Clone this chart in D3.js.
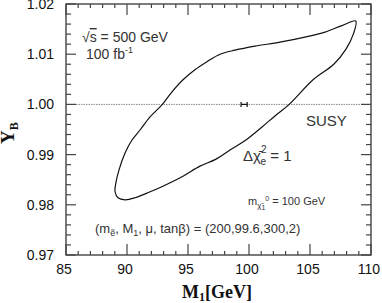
<!DOCTYPE html>
<html><head><meta charset="utf-8">
<script src="https://cdn.jsdelivr.net/npm/d3@7"></script>
<style>
html,body{margin:0;padding:0;background:#fff;}
svg{display:block;}
</style></head>
<body>
<svg id="c" width="382" height="303"></svg>
<script>
// ---- data ----
const xMajorTicks = [85, 90, 95, 100, 105, 110];
const yMajorTicks = [0.97, 0.98, 0.99, 1.00, 1.01, 1.02];
const yTickLabels = ["0.97", "0.98", "0.99", "1.00", "1.01", "1.02"];
// Delta chi^2 = 1 contour (M1 [GeV], Y_B)
const contourM1 = [89.10, 89.34, 89.84, 90.41, 91.07, 91.89, 92.90, 93.69, 94.59, 95.57, 96.56, 97.62, 98.85, 100.49, 102.54, 104.59, 106.23, 107.62, 108.75,
  108.55, 107.95, 106.95, 105.25, 103.30, 102.13, 101.07, 99.75, 98.44, 97.30, 95.98, 94.59, 93.11, 91.89, 90.66, 89.84, 89.26, 89.02];
const contourYB = [0.9845, 0.9869, 0.9903, 0.9929, 0.9949, 0.9975, 1.0000, 1.0025, 1.0049, 1.0069, 1.0085, 1.0100, 1.0108, 1.0116, 1.0124, 1.0134, 1.0144, 1.0157, 1.0166,
  1.0140, 1.0110, 1.0080, 1.0049, 1.0000, 0.9977, 0.9955, 0.9929, 0.9909, 0.9891, 0.9877, 0.9857, 0.9839, 0.9826, 0.9814, 0.9810, 0.9814, 0.9826];
const bestFitM1 = 99.6, bestFitYB = 1.00, bestFitErr = 0.25;
const refLineYB = 1.00;

// ---- scales ----
const svg = d3.select("#c");
const x = d3.scaleLinear().domain([85, 110]).range([66, 371]);
const y = d3.scaleLinear().domain([0.97, 1.02]).range([255, 4]);
const [x0, x1] = x.range(), [y0, y1] = y.range();

const g = svg.append("g");

// reference line
g.append("line").attr("x1", x0).attr("x2", x1).attr("y1", y(refLineYB)).attr("y2", y(refLineYB))
  .attr("stroke", "#888").attr("stroke-width", 1).attr("stroke-dasharray", "1.5,1");

// contour
const pts = contourM1.map((d, i) => [x(d), y(contourYB[i])]);
g.append("path").attr("d", d3.line().curve(d3.curveCatmullRomClosed.alpha(0.5))(pts))
  .attr("fill", "none").attr("stroke", "#111").attr("stroke-width", 1.2);

// best-fit marker
const bx = x(bestFitM1), by = y(bestFitYB);
g.append("line").attr("x1", x(bestFitM1 - bestFitErr)).attr("x2", x(bestFitM1 + bestFitErr)).attr("y1", by).attr("y2", by).attr("stroke", "#111").attr("stroke-width", 1.2);
[bestFitM1 - bestFitErr, bestFitM1 + bestFitErr].forEach(v => {
  g.append("line").attr("x1", x(v)).attr("x2", x(v)).attr("y1", by - 2.5).attr("y2", by + 2.5).attr("stroke", "#111").attr("stroke-width", 1.2);
});

// frame
g.append("rect").attr("x", x0).attr("y", y1).attr("width", x1 - x0).attr("height", y0 - y1)
  .attr("fill", "none").attr("stroke", "#444").attr("stroke-width", 1.4);

// ticks
const xMinor = d3.range(85, 110.001, 1).filter(v => !xMajorTicks.includes(v));
const yMinor = d3.range(0, 26).map(i => +(0.97 + i * 0.002).toFixed(3)).filter(v => !yMajorTicks.some(t => Math.abs(t - v) < 1e-6));
const tk = g.append("g").attr("stroke", "#444").attr("stroke-width", 1.2);
xMajorTicks.forEach(v => {
  tk.append("line").attr("x1", x(v)).attr("x2", x(v)).attr("y1", y0).attr("y2", y0 - 11);
  tk.append("line").attr("x1", x(v)).attr("x2", x(v)).attr("y1", y1).attr("y2", y1 + 11);
});
xMinor.forEach(v => {
  tk.append("line").attr("x1", x(v)).attr("x2", x(v)).attr("y1", y0).attr("y2", y0 - 4);
  tk.append("line").attr("x1", x(v)).attr("x2", x(v)).attr("y1", y1).attr("y2", y1 + 4);
});
yMajorTicks.forEach(v => {
  tk.append("line").attr("y1", y(v)).attr("y2", y(v)).attr("x1", x0).attr("x2", x0 + 10);
  tk.append("line").attr("y1", y(v)).attr("y2", y(v)).attr("x1", x1).attr("x2", x1 - 10);
});
yMinor.forEach(v => {
  tk.append("line").attr("y1", y(v)).attr("y2", y(v)).attr("x1", x0).attr("x2", x0 + 5);
  tk.append("line").attr("y1", y(v)).attr("y2", y(v)).attr("x1", x1).attr("x2", x1 - 5);
});

// tick labels
const lf = "Liberation Sans, Arial, sans-serif";
g.selectAll(".xl").data(xMajorTicks).enter().append("text")
  .attr("x", d => x(d) - 2).attr("y", 274).attr("text-anchor", "middle")
  .attr("font-family", lf).attr("font-size", 14).attr("fill", "#111").text(d => d);
g.selectAll(".yl").data(yMajorTicks).enter().append("text")
  .attr("x", 54).attr("y", d => y(d) + 5).attr("text-anchor", "end")
  .attr("font-family", lf).attr("font-size", 14).attr("fill", "#111").text((d, i) => yTickLabels[i]);

// axis titles
const sf = "Liberation Serif, Times New Roman, serif";
const xt = g.append("text").attr("x", 217).attr("y", 298).attr("text-anchor", "middle")
  .attr("font-family", sf).attr("font-size", 18).attr("font-weight", "bold").attr("fill", "#111");
xt.append("tspan").text("M");
xt.append("tspan").attr("font-size", 12).attr("dy", 3).text("1");
xt.append("tspan").attr("dy", -3).text("[GeV]");

const yt = g.append("text").attr("transform", "translate(14,133) rotate(-90)").attr("text-anchor", "middle")
  .attr("font-family", sf).attr("font-size", 19).attr("font-weight", "bold").attr("fill", "#111");
yt.append("tspan").text("Y");
yt.append("tspan").attr("font-size", 12).attr("dy", 4).text("B");

// annotations
const af = "Liberation Sans, Arial, sans-serif";
const ac = "#333";
const t1 = g.append("text").attr("x", 82).attr("y", 42).attr("font-family", af).attr("font-size", 14).attr("fill", ac);
t1.append("tspan").text("√");
t1.append("tspan").attr("text-decoration", "overline").text("s");
t1.append("tspan").text(" = 500 GeV");
const t2 = g.append("text").attr("x", 86).attr("y", 59).attr("font-family", af).attr("font-size", 14).attr("fill", ac);
t2.append("tspan").text("100 fb");
t2.append("tspan").attr("font-size", 9).attr("dy", -6).text("-1");

g.append("text").attr("x", 306).attr("y", 126).attr("font-family", af).attr("font-size", 15).attr("fill", ac).text("SUSY");

const t3 = g.append("text").attr("x", 243).attr("y", 161).attr("font-family", af).attr("font-size", 15).attr("fill", ac);
t3.append("tspan").text("Δχ̄");
t3.append("tspan").attr("font-size", 10).attr("dy", -8).text("2");
t3.append("tspan").attr("font-size", 10).attr("dx", -6).attr("dy", 12).text("e");
t3.append("tspan").attr("dy", -4).text(" = 1");

const t4 = g.append("text").attr("x", 248).attr("y", 205).attr("font-family", af).attr("font-size", 11).attr("fill", ac);
t4.append("tspan").text("m");
t4.append("tspan").attr("font-size", 8).attr("dy", 3).text("χ̃");
t4.append("tspan").attr("font-size", 7).attr("dy", 2).text("1");
t4.append("tspan").attr("font-size", 7).attr("dy", -9).text("0");
t4.append("tspan").attr("dy", 4).text(" = 100 GeV");

const t5 = g.append("text").attr("x", 95).attr("y", 233).attr("font-family", af).attr("font-size", 13).attr("fill", ac);
t5.append("tspan").text("(m");
t5.append("tspan").attr("font-size", 9).attr("dy", 3).text("ẽ");
t5.append("tspan").attr("dy", -3).text(", M");
t5.append("tspan").attr("font-size", 9).attr("dy", 3).text("1");
t5.append("tspan").attr("dy", -3).text(", μ, tanβ) = (200,99.6,300,2)");
</script>
</body></html>
